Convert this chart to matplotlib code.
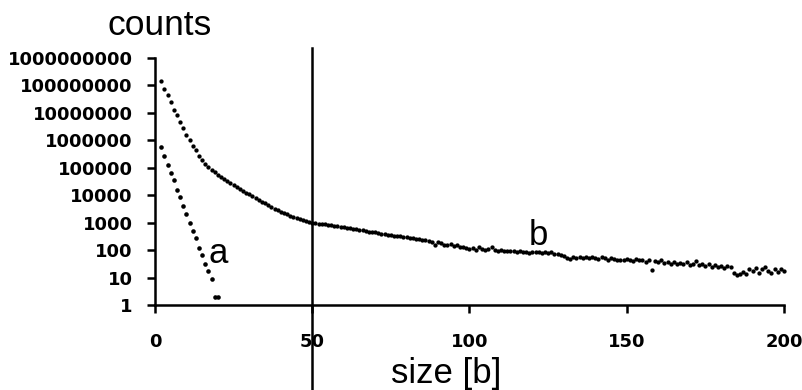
import matplotlib
matplotlib.use("Agg")
import matplotlib.pyplot as plt

# serie a: tamaños 2..20
a_size = list(range(2, 21))
a_counts = [575000, 275000, 129000, 65000, 35000, 16000, 8500, 4100, 2100,
            1000, 510, 270, 117, 66, 32, 17, 9, 2, 2]

# serie b: tamaños 2..200
b_size = list(range(2, 201))
b_counts = [
    140000000, 74000000, 46000000, 24000000, 13000000, 8500000, 4500000, 2800000, 1600000,
    1000000, 630000, 430000, 260000, 190000, 140000, 110000, 85000, 69000, 56000,
    46000, 38000, 32000, 27500, 23500, 20000, 16600, 14100, 12300, 10700,
    9100, 7800, 6900, 5900, 5000, 4400, 3700, 3200, 2800, 2500,
    2250, 2000, 1820, 1660, 1520, 1410, 1290, 1170, 1080, 1000,
    960, 930, 900, 860, 830, 790, 770, 730, 700, 680,
    640, 620, 600, 570, 550, 520, 500, 470, 460, 440,
    420, 400, 390, 370, 360, 340, 330, 320, 300, 290,
    280, 270, 255, 250, 230, 235, 210, 200, 160, 190,
    175, 160, 150, 165, 140, 150, 135, 125, 120, 110,
    118, 105, 125, 110, 100, 112, 125, 100, 95, 98,
    92, 95, 90, 92, 88, 90, 84, 86, 80, 85,
    82, 88, 80, 84, 78, 82, 75, 72, 65, 60,
    52, 48, 55, 50, 54, 52, 56, 50, 55, 52,
    48, 55, 50, 45, 52, 48, 44, 42, 45, 48,
    42, 40, 48, 45, 42, 38, 44, 19, 40, 36,
    42, 35, 38, 32, 36, 30, 34, 30, 36, 28,
    32, 40, 28, 32, 26, 30, 24, 28, 25, 26,
    22, 26, 24, 15, 12, 13, 16, 14, 20, 18,
    22, 15, 20, 24, 18, 15, 20, 16, 20, 17,
]

y_ticks = [1, 10, 100, 1000, 10000, 100000, 1000000, 10000000, 100000000, 1000000000]
y_labels = [str(v) for v in y_ticks]
x_ticks = [0, 50, 100, 150, 200]
corte = 50

fig = plt.figure(figsize=(8.03, 3.9), dpi=100)
ax = fig.add_axes([155 / 803, 1 - 305 / 390, (784 - 155) / 803, (305 - 58) / 390])

ax.plot(a_size, a_counts, 'o', color='black', ms=3.3, mew=0, clip_on=False)
ax.plot(b_size, b_counts, 'o', color='black', ms=3.1, mew=0, clip_on=False)

ax.set_yscale('log')
ax.set_xlim(0, 200)
ax.set_ylim(1, 1e9)
ax.set_yticks(y_ticks)
ax.set_yticklabels(y_labels)
ax.minorticks_off()
ax.set_xticks(x_ticks)
ax.set_xticklabels([str(v) for v in x_ticks])

for s in ['top', 'right']:
    ax.spines[s].set_visible(False)
for s in ['left', 'bottom']:
    ax.spines[s].set_linewidth(1.8)

ax.tick_params(axis='y', direction='out', length=6, width=1.8, pad=10)
ax.tick_params(axis='x', direction='out', length=6, width=1.8, pad=14)
for lab in ax.get_yticklabels() + ax.get_xticklabels():
    lab.set_fontfamily('DejaVu Sans')
    lab.set_fontweight('bold')
    lab.set_fontsize(13)

# línea vertical que sale de los ejes
ax.axvline(corte, ymin=-85 / 247, ymax=257 / 247, color='black', lw=1.8, clip_on=False)

ax.text(20.2, 10 ** 1.53, 'a', fontsize=25, family='Liberation Sans', ha='center', va='baseline')
ax.text(121.8, 10 ** 2.19, 'b', fontsize=25, family='Liberation Sans', ha='center', va='baseline')

fig.text(160 / 803, 1 - 35 / 390, 'counts', fontsize=25.5, family='Liberation Sans',
         ha='center', va='baseline')
fig.text(446 / 803, 1 - 383 / 390, 'size [b]', fontsize=25, family='Liberation Sans',
         ha='center', va='baseline')

fig.savefig('out.png', dpi=100)
